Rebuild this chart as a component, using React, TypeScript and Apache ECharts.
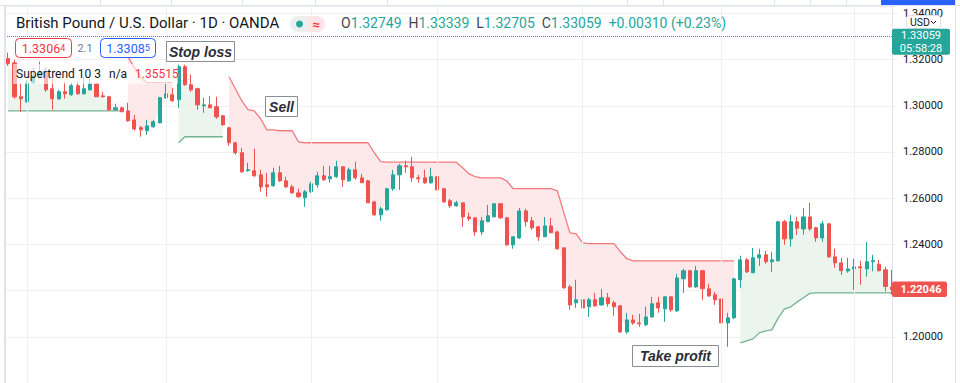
import React, { useEffect, useRef } from "react";
import * as echarts from "echarts";

// [open, close, low, high]
const ohlc: number[][] = [
  [1.3204, 1.3182, 1.3173, 1.3230], [1.3186, 1.3039, 1.3030, 1.3199], [1.3039, 1.3030, 1.2974, 1.3100],
  [1.3017, 1.3100, 1.3013, 1.3113], [1.3100, 1.3130, 1.3095, 1.3165], [1.3130, 1.3147, 1.3121, 1.3191],
  [1.3143, 1.3069, 1.3061, 1.3165], [1.3074, 1.3030, 1.2983, 1.3117], [1.3030, 1.3061, 1.3026, 1.3069],
  [1.3061, 1.3052, 1.3030, 1.3104], [1.3048, 1.3087, 1.3043, 1.3100], [1.3087, 1.3052, 1.3048, 1.3104],
  [1.3052, 1.3074, 1.3048, 1.3126], [1.3069, 1.3095, 1.3065, 1.3117], [1.3095, 1.3039, 1.3039, 1.3100],
  [1.3043, 1.3039, 1.3035, 1.3061], [1.3039, 1.2983, 1.2978, 1.3043], [1.2983, 1.2991, 1.2978, 1.3009],
  [1.2991, 1.2974, 1.2974, 1.2996], [1.2978, 1.2935, 1.2931, 1.3013], [1.2939, 1.2900, 1.2892, 1.2961],
  [1.2905, 1.2896, 1.2866, 1.2913], [1.2892, 1.2913, 1.2874, 1.2939], [1.2909, 1.2931, 1.2905, 1.2939],
  [1.2926, 1.3035, 1.2926, 1.3039], [1.3035, 1.3052, 1.3030, 1.3100], [1.3048, 1.3022, 1.3017, 1.3078],
  [1.3026, 1.3169, 1.2991, 1.3178], [1.3169, 1.3091, 1.3087, 1.3178], [1.3091, 1.3069, 1.3061, 1.3134],
  [1.3074, 1.3004, 1.2983, 1.3078], [1.3000, 1.3004, 1.2970, 1.3035], [1.3004, 1.2991, 1.2991, 1.3043],
  [1.2996, 1.2952, 1.2944, 1.3039], [1.2957, 1.2918, 1.2913, 1.2961], [1.2905, 1.2840, 1.2827, 1.2909],
  [1.2840, 1.2797, 1.2788, 1.2844], [1.2797, 1.2714, 1.2710, 1.2818], [1.2719, 1.2723, 1.2714, 1.2753],
  [1.2719, 1.2697, 1.2693, 1.2814], [1.2701, 1.2649, 1.2628, 1.2723], [1.2658, 1.2649, 1.2606, 1.2710],
  [1.2654, 1.2710, 1.2649, 1.2732], [1.2710, 1.2675, 1.2671, 1.2740], [1.2675, 1.2649, 1.2645, 1.2693],
  [1.2649, 1.2623, 1.2619, 1.2658], [1.2623, 1.2606, 1.2602, 1.2641], [1.2602, 1.2628, 1.2563, 1.2636],
  [1.2628, 1.2662, 1.2623, 1.2671], [1.2658, 1.2697, 1.2645, 1.2714], [1.2697, 1.2680, 1.2675, 1.2740],
  [1.2684, 1.2693, 1.2667, 1.2740], [1.2693, 1.2736, 1.2688, 1.2762], [1.2736, 1.2680, 1.2649, 1.2736],
  [1.2675, 1.2723, 1.2671, 1.2732], [1.2723, 1.2688, 1.2680, 1.2758], [1.2688, 1.2667, 1.2667, 1.2706],
  [1.2675, 1.2580, 1.2580, 1.2680], [1.2584, 1.2528, 1.2524, 1.2589], [1.2528, 1.2554, 1.2502, 1.2563],
  [1.2550, 1.2641, 1.2545, 1.2645], [1.2641, 1.2701, 1.2632, 1.2723], [1.2701, 1.2740, 1.2636, 1.2749],
  [1.2740, 1.2736, 1.2710, 1.2762], [1.2736, 1.2688, 1.2671, 1.2779], [1.2688, 1.2684, 1.2667, 1.2701],
  [1.2688, 1.2667, 1.2662, 1.2723], [1.2667, 1.2693, 1.2662, 1.2732], [1.2693, 1.2636, 1.2632, 1.2697],
  [1.2641, 1.2584, 1.2580, 1.2645], [1.2589, 1.2567, 1.2558, 1.2597], [1.2567, 1.2580, 1.2563, 1.2589],
  [1.2580, 1.2519, 1.2476, 1.2580], [1.2519, 1.2511, 1.2502, 1.2537], [1.2515, 1.2454, 1.2437, 1.2515],
  [1.2454, 1.2502, 1.2441, 1.2519], [1.2498, 1.2524, 1.2498, 1.2571], [1.2519, 1.2576, 1.2519, 1.2576],
  [1.2576, 1.2515, 1.2511, 1.2576], [1.2515, 1.2398, 1.2394, 1.2519], [1.2398, 1.2433, 1.2381, 1.2433],
  [1.2428, 1.2545, 1.2424, 1.2558], [1.2545, 1.2498, 1.2476, 1.2554], [1.2502, 1.2472, 1.2463, 1.2519],
  [1.2476, 1.2433, 1.2415, 1.2480], [1.2433, 1.2480, 1.2433, 1.2519], [1.2480, 1.2450, 1.2450, 1.2515],
  [1.2454, 1.2381, 1.2377, 1.2459], [1.2385, 1.2212, 1.2208, 1.2385], [1.2216, 1.2138, 1.2117, 1.2225],
  [1.2147, 1.2160, 1.2125, 1.2247], [1.2160, 1.2125, 1.2082, 1.2173], [1.2130, 1.2160, 1.2086, 1.2169],
  [1.2160, 1.2134, 1.2130, 1.2190], [1.2138, 1.2169, 1.2134, 1.2208], [1.2169, 1.2143, 1.2130, 1.2190],
  [1.2147, 1.2130, 1.2091, 1.2156], [1.2134, 1.2021, 1.2017, 1.2138], [1.2021, 1.2073, 1.2013, 1.2104],
  [1.2073, 1.2060, 1.2052, 1.2095], [1.2060, 1.2056, 1.2043, 1.2099], [1.2052, 1.2086, 1.2047, 1.2130],
  [1.2086, 1.2143, 1.2082, 1.2173], [1.2147, 1.2125, 1.2104, 1.2173], [1.2121, 1.2173, 1.2065, 1.2177],
  [1.2173, 1.2117, 1.2108, 1.2177], [1.2112, 1.2255, 1.2108, 1.2273], [1.2251, 1.2286, 1.2190, 1.2294],
  [1.2286, 1.2216, 1.2212, 1.2290], [1.2216, 1.2286, 1.2212, 1.2307], [1.2286, 1.2208, 1.2160, 1.2290],
  [1.2208, 1.2177, 1.2173, 1.2229], [1.2182, 1.2160, 1.2138, 1.2195], [1.2164, 1.2060, 1.2039, 1.2173],
  [1.2060, 1.2082, 1.1957, 1.2104], [1.2082, 1.2251, 1.2078, 1.2255], [1.2247, 1.2333, 1.2212, 1.2351],
  [1.2333, 1.2281, 1.2277, 1.2342], [1.2277, 1.2342, 1.2277, 1.2385], [1.2342, 1.2355, 1.2307, 1.2381],
  [1.2355, 1.2325, 1.2316, 1.2372], [1.2325, 1.2333, 1.2281, 1.2368], [1.2329, 1.2498, 1.2325, 1.2502],
  [1.2498, 1.2424, 1.2398, 1.2506], [1.2424, 1.2498, 1.2390, 1.2528], [1.2498, 1.2470, 1.2441, 1.2519],
  [1.2467, 1.2519, 1.2441, 1.2558], [1.2519, 1.2467, 1.2459, 1.2580], [1.2472, 1.2428, 1.2411, 1.2476],
  [1.2428, 1.2489, 1.2411, 1.2502], [1.2489, 1.2346, 1.2342, 1.2493], [1.2346, 1.2320, 1.2299, 1.2381],
  [1.2320, 1.2286, 1.2268, 1.2342], [1.2285, 1.2294, 1.2277, 1.2342], [1.2294, 1.2303, 1.2203, 1.2338],
  [1.2303, 1.2299, 1.2225, 1.2329], [1.2294, 1.2325, 1.2260, 1.2411], [1.2325, 1.2330, 1.2283, 1.2355],
  [1.2314, 1.2286, 1.2283, 1.2333], [1.2290, 1.2218, 1.2196, 1.2303], [1.2216, 1.2205, 1.2182, 1.2290],
];

const _ = null;
// Supertrend (10, 3) – lower band while trend is up
const supertrendUp: (number | null)[] = [
  1.2978, 1.2978, 1.2978, 1.2978, 1.2978, 1.2978, 1.2978, 1.2978, 1.2978, 1.2978,
  1.2978, 1.2978, 1.2978, 1.2978, 1.2978, 1.2978, 1.2978, 1.2978, 1.2978,
  _, _, _, _, _, _, _, _,
  1.2840, 1.2866, 1.2866, 1.2866, 1.2866, 1.2866, 1.2866, 1.2866,
  _, _, _, _, _, _, _, _, _, _, _, _, _, _, _, _, _, _, _, _,
  _, _, _, _, _, _, _, _, _, _, _, _, _, _, _, _, _, _, _, _,
  _, _, _, _, _, _, _, _, _, _, _, _, _, _, _, _, _, _, _, _,
  _, _, _, _, _, _, _, _, _, _, _, _, _, _, _, _, _, _, _, _, _,
  1.1974, 1.1982, 1.1991, 1.2017, 1.2026, 1.2030, 1.2082, 1.2121, 1.2130, 1.2151, 1.2169, 1.2188,
  1.2190, 1.2190, 1.2190, 1.2190, 1.2190, 1.2190, 1.2190, 1.2190, 1.2190, 1.2190, 1.2190, 1.2190, 1.2190,
];
// Supertrend (10, 3) – upper band while trend is down
const supertrendDown: (number | null)[] = [
  _, _, _, _, _, _, _, _, _, _, _, _, _, _, _, _, _, _, _,
  1.3212, 1.3165, 1.3121, 1.3100, 1.3100, 1.3100, 1.3100, 1.3100,
  _, _, _, _, _, _, _, _,
  1.3126, 1.3074, 1.3022, 1.2983, 1.2978, 1.2944, 1.2896, 1.2896, 1.2892, 1.2892, 1.2892, 1.2844,
  1.2840, 1.2840, 1.2840, 1.2840, 1.2840, 1.2840, 1.2840, 1.2840, 1.2840, 1.2840, 1.2840,
  1.2797, 1.2758,
  1.2756, 1.2756, 1.2756, 1.2756, 1.2756, 1.2756, 1.2756, 1.2756, 1.2756, 1.2756, 1.2756, 1.2756,
  1.2732, 1.2706, 1.2693,
  1.2688, 1.2688, 1.2688, 1.2688,
  1.2675,
  1.2641, 1.2641, 1.2641, 1.2641, 1.2641, 1.2641, 1.2641,
  1.2632, 1.2541, 1.2450, 1.2446, 1.2407,
  1.2403, 1.2403, 1.2403, 1.2403, 1.2403,
  1.2368, 1.2338,
  1.2329, 1.2329, 1.2329, 1.2329, 1.2329, 1.2329, 1.2329, 1.2329, 1.2329, 1.2329,
  1.2329, 1.2329, 1.2329, 1.2329, 1.2329, 1.2329, 1.2329,
  _, _, _, _, _, _, _, _, _, _, _, _, _, _, _, _, _, _, _, _, _, _, _, _, _,
];

const monthStarts = [3, 25, 48, 68, 91, 113, 134];
const yMin = 1.18;
const yMax = 1.3432;
const yStep = 0.02;
const livePrice = 1.33059;
const liveTimer = "05:58:28";
const lastPrice = 1.22046;
const headerOHLC = ["1.32749", "1.33339", "1.32705", "1.33059"];
const headerChange = "+0.00310 (+0.23%)";
const sellPrice = ["1.3306", "4"];
const buyPrice = ["1.3308", "5"];
const spread = "2.1";
const stLegend = ["Supertrend 10 3", "n/a", "1.35515"];
const toolbarTicks = [100, 171, 242, 315, 387, 627, 663, 774, 810, 846];

const UP = "#26a69a";
const DOWN = "#ef5350";
const FONT = 'Roboto, "Noto Sans", Arial, sans-serif';
const NOTE_FONT = '"Liberation Sans", Arial, sans-serif';

const bodyMid = ohlc.map((d) => (d[0] + d[1]) / 2);
const categories = ohlc.map((_d, i) => String(i));

function buildGraphics(yLive: number, yLast: number) {
  const g: any[] = [];
  // toolbar strip
  g.push({ type: "line", shape: { x1: 0, y1: 5.5, x2: 960, y2: 5.5 }, style: { stroke: "#e0e3eb", lineWidth: 1 }, z: 100 });
  toolbarTicks.forEach((x) =>
    g.push({ type: "line", shape: { x1: x + 0.5, y1: 0, x2: x + 0.5, y2: 5 }, style: { stroke: "#e0e3eb", lineWidth: 1 }, z: 100 })
  );
  g.push({ type: "rect", shape: { x: 881, y: 0, width: 74, height: 5 }, style: { fill: "#2962ff" }, z: 100 });
  g.push({ type: "rect", shape: { x: 4, y: 6, width: 2, height: 377 }, style: { fill: "#e0e3eb" }, z: 100 });
  g.push({ type: "line", shape: { x1: 892.5, y1: 6, x2: 892.5, y2: 383 }, style: { stroke: "#e0e3eb", lineWidth: 1 }, z: 100 });
  g.push({ type: "line", shape: { x1: 955.5, y1: 0, x2: 955.5, y2: 383 }, style: { stroke: "#e0e3eb", lineWidth: 1 }, z: 100 });

  // header title
  g.push({
    type: "text", x: 16, y: 23, z: 100,
    style: { text: "British Pound / U.S. Dollar · 1D · OANDA", fontSize: 15, fontFamily: FONT, fill: "#131722", verticalAlign: "middle" },
  });
  // status pill
  g.push({ type: "rect", shape: { x: 290, y: 16, width: 17, height: 16, r: [8, 0, 0, 8] }, style: { fill: "#e9f0ee" }, z: 100 });
  g.push({ type: "rect", shape: { x: 307, y: 16, width: 18, height: 16, r: [0, 8, 8, 0] }, style: { fill: "#fde4e6" }, z: 100 });
  g.push({ type: "circle", shape: { cx: 299.5, cy: 24, r: 3.5 }, style: { fill: UP }, z: 101 });
  g.push({
    type: "text", x: 316, y: 24, z: 101,
    style: { text: "≈", fontSize: 13, fontWeight: "bold", fontFamily: FONT, fill: "#f23645", align: "center", verticalAlign: "middle" },
  });
  g.push({
    type: "text", x: 341, y: 23, z: 100,
    style: {
      text: `{k|O}{v|${headerOHLC[0]}}  {k|H}{v|${headerOHLC[1]}}  {k|L}{v|${headerOHLC[2]}}  {k|C}{v|${headerOHLC[3]}}  {v|${headerChange}}`,
      fontSize: 14, fontFamily: FONT, verticalAlign: "middle",
      rich: {
        k: { fill: "#434651", fontSize: 14, fontFamily: FONT },
        v: { fill: UP, fontSize: 14, fontFamily: FONT },
      },
    },
  });

  // sell / buy boxes
  g.push({ type: "rect", shape: { x: 15.5, y: 38.5, width: 56, height: 19, r: 4 }, style: { fill: "#fff", stroke: "#f23645", lineWidth: 1 }, z: 100 });
  g.push({
    type: "text", x: 43.5, y: 48, z: 101,
    style: {
      text: `{a|${sellPrice[0]}}{b|${sellPrice[1]}}`, align: "center", verticalAlign: "middle",
      rich: { a: { fill: "#f23645", fontSize: 12.5, fontFamily: FONT }, b: { fill: "#f23645", fontSize: 9, fontFamily: FONT } },
    },
  });
  g.push({ type: "text", x: 85, y: 48, z: 100, style: { text: spread, fontSize: 11, fontFamily: FONT, fill: "#787b86", align: "center", verticalAlign: "middle" } });
  g.push({ type: "rect", shape: { x: 100.5, y: 38.5, width: 55, height: 19, r: 4 }, style: { fill: "#fff", stroke: "#2962ff", lineWidth: 1 }, z: 100 });
  g.push({
    type: "text", x: 128, y: 48, z: 101,
    style: {
      text: `{a|${buyPrice[0]}}{b|${buyPrice[1]}}`, align: "center", verticalAlign: "middle",
      rich: { a: { fill: "#2962ff", fontSize: 12.5, fontFamily: FONT }, b: { fill: "#2962ff", fontSize: 9, fontFamily: FONT } },
    },
  });

  // indicator legend
  g.push({ type: "rect", shape: { x: 13, y: 64, width: 165, height: 20 }, style: { fill: "rgba(255,255,255,0.6)" }, z: 99 });
  g.push({ type: "text", x: 16, y: 74, z: 100, style: { text: stLegend[0], fontSize: 12, fontFamily: FONT, fill: "#131722", verticalAlign: "middle" } });
  g.push({ type: "text", x: 109, y: 74, z: 100, style: { text: stLegend[1], fontSize: 12, fontFamily: FONT, fill: "#131722", verticalAlign: "middle" } });
  g.push({ type: "text", x: 135, y: 74, z: 100, style: { text: stLegend[2], fontSize: 12, fontFamily: FONT, fill: "#f23645", verticalAlign: "middle" } });

  // annotations
  const note = (x: number, y: number, w: number, h: number, text: string) => {
    g.push({ type: "rect", shape: { x: x + 0.5, y: y + 0.5, width: w, height: h }, style: { fill: "#fff", stroke: "#8a8d96", lineWidth: 1 }, z: 100 });
    g.push({
      type: "text", x: x + 0.5 + w / 2, y: y + 0.5 + h / 2, z: 101,
      style: { text, fontSize: 14, fontWeight: "bold", fontStyle: "italic", fontFamily: NOTE_FONT, fill: "#2a2e39", align: "center", verticalAlign: "middle" },
    });
  };
  note(166, 41, 68, 20, "Stop loss");
  note(265, 96, 32, 20, "Sell");
  note(632, 345, 86, 21, "Take profit");

  // currency selector
  g.push({ type: "rect", shape: { x: 906.5, y: 15.5, width: 34, height: 13, r: 3 }, style: { fill: "#fff", stroke: "#e0e3eb", lineWidth: 1 }, z: 100 });
  g.push({ type: "text", x: 910, y: 22.5, z: 101, style: { text: "USD", fontSize: 10.5, fontFamily: FONT, fill: "#131722", verticalAlign: "middle" } });
  g.push({ type: "polyline", shape: { points: [[931, 21], [933.5, 23.5], [936, 21]] }, style: { stroke: "#131722", lineWidth: 1, fill: "none" }, z: 101 });

  // live price label
  g.push({ type: "rect", shape: { x: 892, y: yLive - 6.5, width: 58, height: 26, r: 2 }, style: { fill: UP }, z: 100 });
  g.push({ type: "text", x: 921, y: yLive + 0.5, z: 101, style: { text: livePrice.toFixed(5), fontSize: 11, fontFamily: FONT, fill: "#fff", align: "center", verticalAlign: "middle" } });
  g.push({ type: "text", x: 921, y: yLive + 13, z: 101, style: { text: liveTimer, fontSize: 11, fontFamily: FONT, fill: "#fff", align: "center", verticalAlign: "middle" } });
  // last visible price label
  g.push({ type: "rect", shape: { x: 892, y: yLast - 8, width: 55, height: 15.5, r: 2 }, style: { fill: DOWN }, z: 100 });
  g.push({ type: "text", x: 921, y: yLast, z: 101, style: { text: lastPrice.toFixed(5), fontSize: 11, fontWeight: "bold", fontFamily: FONT, fill: "#fff", align: "center", verticalAlign: "middle" } });
  return g;
}

export default function App() {
  const ref = useRef<HTMLDivElement>(null);
  useEffect(() => {
    const chart = echarts.init(ref.current!, null, { renderer: "svg" });
    const option: any = {
      animation: false,
      backgroundColor: "#ffffff",
      grid: { left: 5, right: 65, top: 6, bottom: 0, containLabel: false },
      xAxis: {
        type: "category",
        data: categories,
        axisLine: { show: false },
        axisTick: { show: false },
        axisLabel: { show: false },
        splitLine: { show: false },
      },
      yAxis: {
        type: "value",
        position: "right",
        min: yMin,
        max: yMax,
        interval: yStep,
        axisLine: { show: false },
        axisTick: { show: false },
        axisLabel: {
          showMinLabel: false,
          // labels hidden behind the last-price tag, as in the price scale
          formatter: (v: number) => (Math.abs(v - lastPrice) < 0.004 ? "" : v.toFixed(5)),
          color: "#131722",
          fontSize: 11,
          fontFamily: FONT,
          margin: 8,
        },
        splitLine: { show: true, lineStyle: { color: "#eef0f3", width: 1 } },
      },
      series: [
        {
          type: "line",
          data: ohlc.map(() => null),
          z: 0,
          silent: true,
          symbol: "none",
          markLine: {
            silent: true,
            symbol: ["none", "none"],
            label: { show: false },
            data: monthStarts.map((i) => ({ xAxis: String(i), lineStyle: { color: "#eef0f3", type: "solid", width: 1 } })),
          },
        },
        {
          type: "custom",
          z: 1,
          silent: true,
          clip: true,
          data: [[0, 1.25]],
          encode: { x: 0, y: 1 },
          renderItem: (_params: any, api: any) => {
            const children: any[] = [];
            const addRuns = (arr: (number | null)[], fill: string) => {
              let i = 0;
              while (i < arr.length) {
                if (arr[i] == null) { i++; continue; }
                let j = i;
                while (j + 1 < arr.length && arr[j + 1] != null) j++;
                if (j > i) {
                  const pts: number[][] = [];
                  for (let k = i; k <= j; k++) pts.push(api.coord([k, arr[k]]));
                  for (let k = j; k >= i; k--) pts.push(api.coord([k, bodyMid[k]]));
                  children.push({ type: "polygon", shape: { points: pts }, style: { fill } });
                }
                i = j + 1;
              }
            };
            addRuns(supertrendUp, "#ebf5ee");
            addRuns(supertrendDown, "#fde9ea");
            return { type: "group", children };
          },
        },
        {
          type: "line",
          data: supertrendUp,
          z: 2,
          symbol: "none",
          connectNulls: false,
          silent: true,
          lineStyle: { color: "#72b392", width: 1.3 },
          markLine: {
            silent: true,
            symbol: ["none", "none"],
            label: { show: false },
            data: [{ yAxis: livePrice, lineStyle: { color: UP, type: "dotted", width: 1 } }],
          },
        },
        {
          type: "line",
          data: supertrendDown,
          z: 2,
          symbol: "none",
          connectNulls: false,
          silent: true,
          lineStyle: { color: "#f57a7e", width: 1.3 },
        },
        {
          type: "candlestick",
          data: ohlc,
          z: 3,
          barWidth: 3.6,
          itemStyle: {
            color: UP,
            color0: DOWN,
            borderColor: UP,
            borderColor0: DOWN,
            borderWidth: 1,
          },
        },
      ],
    };
    chart.setOption(option);
    const yLive = chart.convertToPixel({ yAxisIndex: 0 }, livePrice) as number;
    const yLast = chart.convertToPixel({ yAxisIndex: 0 }, lastPrice) as number;
    chart.setOption({ graphic: buildGraphics(yLive, yLast) });
    return () => chart.dispose();
  }, []);
  return (
    <div
      ref={ref}
      style={{ position: "fixed", left: 0, top: 0, width: 960, height: 383, background: "#fff" }}
    />
  );
}
